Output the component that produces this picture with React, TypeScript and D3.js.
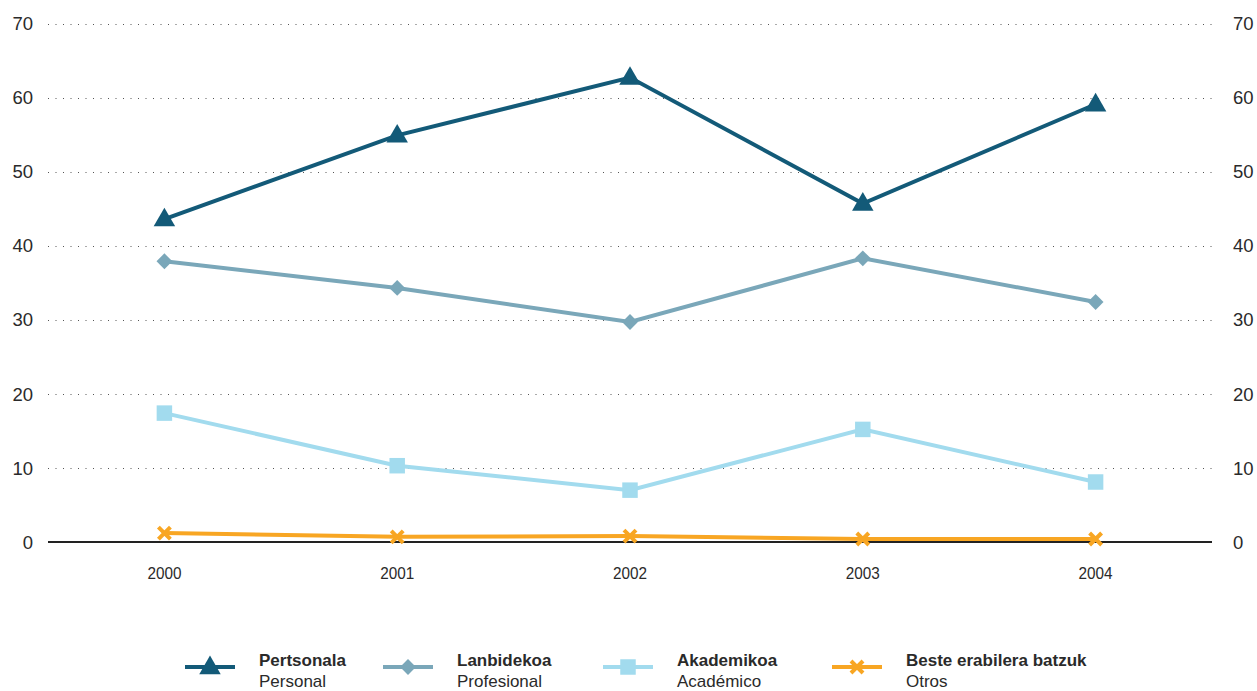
import { useEffect, useRef } from 'react';
import * as d3 from 'd3';

const years = ['2000', '2001', '2002', '2003', '2004'];
const yTicks = [0, 10, 20, 30, 40, 50, 60, 70];

const personal = [43.6, 54.9, 62.7, 45.7, 59.1];
const profesional = [37.9, 34.3, 29.7, 38.3, 32.4];
const academico = [17.4, 10.3, 7.0, 15.2, 8.1];
const otros = [1.2, 0.7, 0.8, 0.4, 0.4];

const seriesNames = ['Pertsonala', 'Lanbidekoa', 'Akademikoa', 'Beste erabilera batzuk'];
const seriesSub = ['Personal', 'Profesional', 'Académico', 'Otros'];
const seriesColors = ['#135a78', '#7aa7b9', '#a2dbee', '#f8a623'];
const seriesShapes = ['triangle', 'diamond', 'square', 'cross'];

const W = 1257;
const H = 691;

function drawMarker(g: any, shape: string, x: number, y: number, color: string) {
  if (shape === 'cross') {
    const s = 6;
    g.append('path')
      .attr('d', `M${x - s},${y - s}L${x + s},${y + s}M${x - s},${y + s}L${x + s},${y - s}`)
      .attr('stroke', color)
      .attr('stroke-width', 4);
    return;
  }
  if (shape === 'diamond') {
    g.append('path')
      .attr('d', d3.symbol().type(d3.symbolSquare).size(125)())
      .attr('transform', `translate(${x},${y}) rotate(45)`)
      .attr('fill', color);
    return;
  }
  const sym = shape === 'triangle' ? d3.symbolTriangle : d3.symbolSquare;
  const size = shape === 'triangle' ? 200 : 240;
  g.append('path')
    .attr('d', d3.symbol().type(sym).size(size)())
    .attr('transform', `translate(${x},${shape === 'triangle' ? y + 1 : y})`)
    .attr('fill', color);
}

export default function App() {
  const svgRef = useRef<SVGSVGElement>(null);

  useEffect(() => {
    const svg = d3.select(svgRef.current);
    svg.selectAll('*').remove();

    const left = 48;
    const right = 1212;

    const x = d3.scalePoint().domain(years).range([left, right]).padding(0.5);
    const y = d3.scaleLinear().domain([0, 70]).range([542, 23.5]);

    const font = 'Liberation Sans, Arial, sans-serif';

    // dotted grid
    const grid = svg.append('g');
    yTicks.filter(t => t > 0).forEach(t => {
      grid.append('line')
        .attr('x1', left).attr('x2', right)
        .attr('y1', Math.round(y(t)) + 0.5).attr('y2', Math.round(y(t)) + 0.5)
        .attr('stroke', '#555')
        .attr('stroke-width', 1)
        .attr('stroke-dasharray', '1,6.5');
    });

    // zero line
    svg.append('line')
      .attr('x1', left).attr('x2', right)
      .attr('y1', y(0)).attr('y2', y(0))
      .attr('stroke', '#222')
      .attr('stroke-width', 2.2);

    // y labels both sides
    yTicks.forEach(t => {
      svg.append('text')
        .attr('x', 33).attr('y', y(t))
        .attr('dy', '0.36em')
        .attr('text-anchor', 'end')
        .attr('font-family', font).attr('font-size', 18.5)
        .attr('fill', '#2a2a2a')
        .text(t);
      svg.append('text')
        .attr('x', 1233).attr('y', y(t))
        .attr('dy', '0.36em')
        .attr('text-anchor', 'start')
        .attr('font-family', font).attr('font-size', 18.5)
        .attr('fill', '#2a2a2a')
        .text(t);
    });

    // x labels (narrow font look)
    years.forEach(yr => {
      const cx = x(yr) as number;
      svg.append('text')
        .attr('x', 0).attr('y', 0)
        .attr('text-anchor', 'middle')
        .attr('font-family', font).attr('font-size', 17)
        .attr('fill', '#2a2a2a')
        .attr('transform', `translate(${cx},579) scale(0.9,1)`)
        .text(yr);
    });

    const allSeries = [personal, profesional, academico, otros];
    const line = d3.line<number>()
      .x((_, i) => x(years[i]) as number)
      .y(d => y(d));

    // draw from bottom to top so Personal is on top
    [3, 2, 1, 0].forEach(si => {
      const g = svg.append('g');
      g.append('path')
        .attr('d', line(allSeries[si]))
        .attr('fill', 'none')
        .attr('stroke', seriesColors[si])
        .attr('stroke-width', 4);
      allSeries[si].forEach((v, i) => {
        drawMarker(g, seriesShapes[si], x(years[i]) as number, y(v), seriesColors[si]);
      });
    });

    // legend
    const legendX = [185, 383, 603, 832];
    const legendY = 667;
    legendX.forEach((lx, i) => {
      const g = svg.append('g');
      g.append('line')
        .attr('x1', lx).attr('x2', lx + 50)
        .attr('y1', legendY).attr('y2', legendY)
        .attr('stroke', seriesColors[i])
        .attr('stroke-width', 4);
      drawMarker(g, seriesShapes[i], lx + 25, legendY, seriesColors[i]);
      g.append('text')
        .attr('x', lx + 74).attr('y', legendY - 1)
        .attr('font-family', font).attr('font-size', 17)
        .attr('font-weight', 'bold')
        .attr('fill', '#2a2a2a')
        .text(seriesNames[i]);
      g.append('text')
        .attr('x', lx + 74).attr('y', legendY + 20)
        .attr('font-family', font).attr('font-size', 17)
        .attr('fill', '#2a2a2a')
        .text(seriesSub[i]);
    });
  }, []);

  return (
    <svg
      ref={svgRef}
      width={W}
      height={H}
      style={{ position: 'absolute', left: 0, top: 0, background: '#fff' }}
    />
  );
}
